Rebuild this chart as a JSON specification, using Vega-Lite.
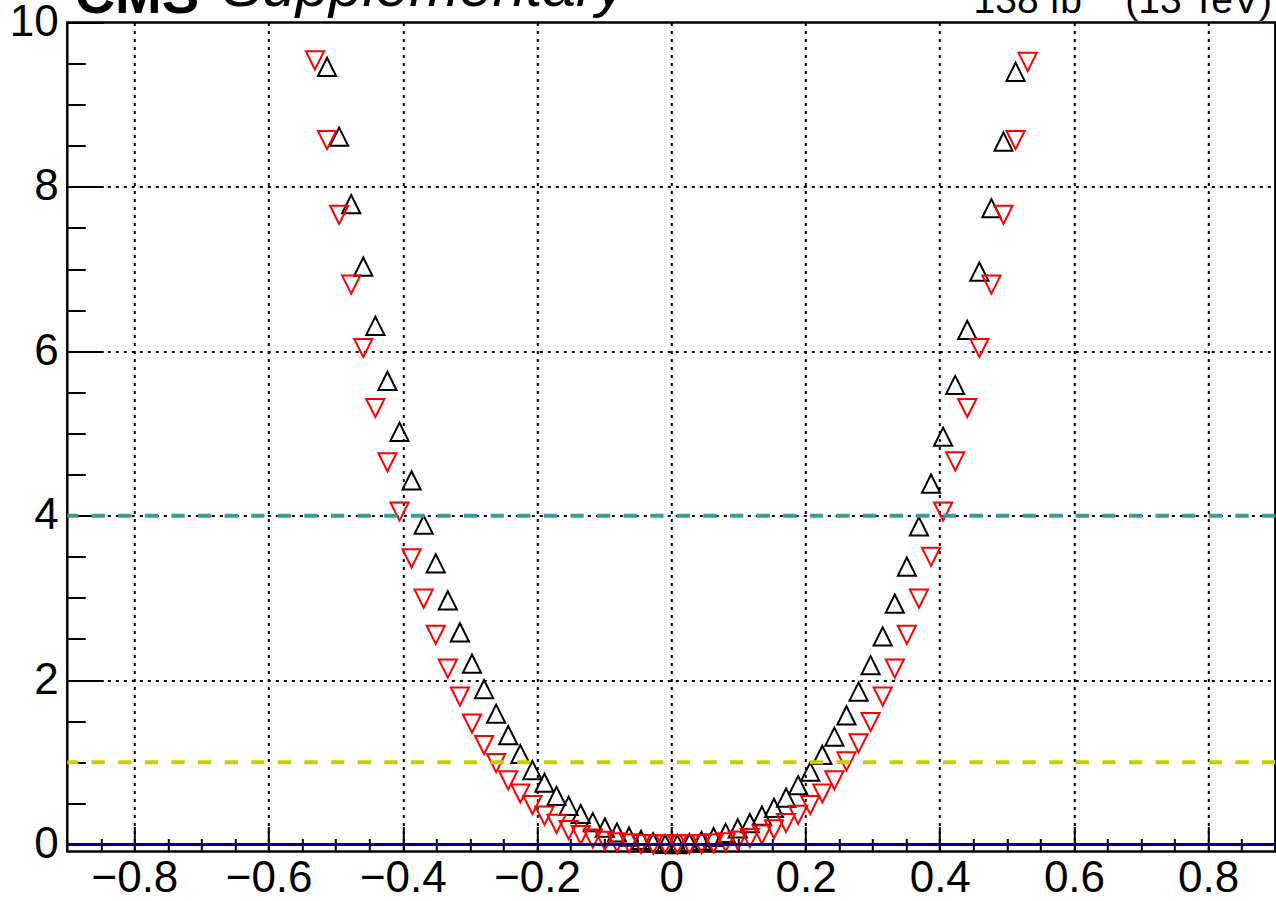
{
  "$schema": "https://vega.github.io/schema/vega-lite/v6.json",
  "width": 1208,
  "height": 829,
  "autosize": {"type": "none"},
  "padding": {"left": 67.3, "top": 22.5, "right": 0.7, "bottom": 49.5},
  "background": "white",
  "config": {
    "view": {"stroke": "black", "strokeWidth": 2.5}
  },
  "layer": [
    {
      "data": {"values": [
        {"series": "A", "x": -0.513, "y": 9.46},
        {"series": "A", "x": -0.495, "y": 8.61},
        {"series": "A", "x": -0.477, "y": 7.79},
        {"series": "A", "x": -0.459, "y": 7.03},
        {"series": "A", "x": -0.441, "y": 6.31},
        {"series": "A", "x": -0.423, "y": 5.64},
        {"series": "A", "x": -0.405, "y": 5.02},
        {"series": "A", "x": -0.387, "y": 4.43},
        {"series": "A", "x": -0.369, "y": 3.89},
        {"series": "A", "x": -0.351, "y": 3.42},
        {"series": "A", "x": -0.333, "y": 2.97},
        {"series": "A", "x": -0.315, "y": 2.58},
        {"series": "A", "x": -0.297, "y": 2.2},
        {"series": "A", "x": -0.279, "y": 1.89},
        {"series": "A", "x": -0.261, "y": 1.59},
        {"series": "A", "x": -0.243, "y": 1.33},
        {"series": "A", "x": -0.225, "y": 1.1},
        {"series": "A", "x": -0.207, "y": 0.905},
        {"series": "A", "x": -0.189, "y": 0.75},
        {"series": "A", "x": -0.171, "y": 0.59},
        {"series": "A", "x": -0.153, "y": 0.47},
        {"series": "A", "x": -0.135, "y": 0.37},
        {"series": "A", "x": -0.117, "y": 0.27},
        {"series": "A", "x": -0.099, "y": 0.205},
        {"series": "A", "x": -0.081, "y": 0.145},
        {"series": "A", "x": -0.063, "y": 0.095},
        {"series": "A", "x": -0.045, "y": 0.055},
        {"series": "A", "x": -0.027, "y": 0.025},
        {"series": "A", "x": -0.009, "y": 0.005},
        {"series": "A", "x": 0.009, "y": 0.003},
        {"series": "A", "x": 0.027, "y": 0.018},
        {"series": "A", "x": 0.045, "y": 0.045},
        {"series": "A", "x": 0.063, "y": 0.09},
        {"series": "A", "x": 0.081, "y": 0.14},
        {"series": "A", "x": 0.099, "y": 0.195},
        {"series": "A", "x": 0.117, "y": 0.26},
        {"series": "A", "x": 0.135, "y": 0.35},
        {"series": "A", "x": 0.153, "y": 0.445},
        {"series": "A", "x": 0.171, "y": 0.57},
        {"series": "A", "x": 0.189, "y": 0.72},
        {"series": "A", "x": 0.207, "y": 0.885},
        {"series": "A", "x": 0.225, "y": 1.09},
        {"series": "A", "x": 0.243, "y": 1.31},
        {"series": "A", "x": 0.261, "y": 1.57},
        {"series": "A", "x": 0.279, "y": 1.86},
        {"series": "A", "x": 0.297, "y": 2.18},
        {"series": "A", "x": 0.315, "y": 2.53},
        {"series": "A", "x": 0.333, "y": 2.93},
        {"series": "A", "x": 0.351, "y": 3.38},
        {"series": "A", "x": 0.369, "y": 3.87},
        {"series": "A", "x": 0.387, "y": 4.39},
        {"series": "A", "x": 0.405, "y": 4.96},
        {"series": "A", "x": 0.423, "y": 5.59},
        {"series": "A", "x": 0.441, "y": 6.26},
        {"series": "A", "x": 0.459, "y": 6.97},
        {"series": "A", "x": 0.477, "y": 7.74},
        {"series": "A", "x": 0.495, "y": 8.55},
        {"series": "A", "x": 0.513, "y": 9.4},
        {"series": "B", "x": -0.531, "y": 9.54},
        {"series": "B", "x": -0.513, "y": 8.57},
        {"series": "B", "x": -0.495, "y": 7.66},
        {"series": "B", "x": -0.477, "y": 6.81},
        {"series": "B", "x": -0.459, "y": 6.04},
        {"series": "B", "x": -0.441, "y": 5.31},
        {"series": "B", "x": -0.423, "y": 4.65},
        {"series": "B", "x": -0.405, "y": 4.05},
        {"series": "B", "x": -0.387, "y": 3.48},
        {"series": "B", "x": -0.369, "y": 2.99},
        {"series": "B", "x": -0.351, "y": 2.55},
        {"series": "B", "x": -0.333, "y": 2.14},
        {"series": "B", "x": -0.315, "y": 1.8},
        {"series": "B", "x": -0.297, "y": 1.47},
        {"series": "B", "x": -0.279, "y": 1.21},
        {"series": "B", "x": -0.261, "y": 0.99},
        {"series": "B", "x": -0.243, "y": 0.78},
        {"series": "B", "x": -0.225, "y": 0.62},
        {"series": "B", "x": -0.207, "y": 0.48},
        {"series": "B", "x": -0.189, "y": 0.35},
        {"series": "B", "x": -0.171, "y": 0.25},
        {"series": "B", "x": -0.153, "y": 0.175},
        {"series": "B", "x": -0.135, "y": 0.115},
        {"series": "B", "x": -0.117, "y": 0.072},
        {"series": "B", "x": -0.099, "y": 0.045},
        {"series": "B", "x": -0.081, "y": 0.025},
        {"series": "B", "x": -0.063, "y": 0.012},
        {"series": "B", "x": -0.045, "y": 0.005},
        {"series": "B", "x": -0.027, "y": 0.001},
        {"series": "B", "x": -0.009, "y": 0.0},
        {"series": "B", "x": 0.009, "y": 0.0},
        {"series": "B", "x": 0.027, "y": 0.001},
        {"series": "B", "x": 0.045, "y": 0.005},
        {"series": "B", "x": 0.063, "y": 0.013},
        {"series": "B", "x": 0.081, "y": 0.027},
        {"series": "B", "x": 0.099, "y": 0.048},
        {"series": "B", "x": 0.117, "y": 0.078},
        {"series": "B", "x": 0.135, "y": 0.12},
        {"series": "B", "x": 0.153, "y": 0.185},
        {"series": "B", "x": 0.171, "y": 0.26},
        {"series": "B", "x": 0.189, "y": 0.36},
        {"series": "B", "x": 0.207, "y": 0.48},
        {"series": "B", "x": 0.225, "y": 0.62},
        {"series": "B", "x": 0.243, "y": 0.78},
        {"series": "B", "x": 0.261, "y": 1.01},
        {"series": "B", "x": 0.279, "y": 1.23},
        {"series": "B", "x": 0.297, "y": 1.49},
        {"series": "B", "x": 0.315, "y": 1.8},
        {"series": "B", "x": 0.333, "y": 2.14},
        {"series": "B", "x": 0.351, "y": 2.55},
        {"series": "B", "x": 0.369, "y": 2.99},
        {"series": "B", "x": 0.387, "y": 3.5},
        {"series": "B", "x": 0.405, "y": 4.05},
        {"series": "B", "x": 0.423, "y": 4.66},
        {"series": "B", "x": 0.441, "y": 5.31},
        {"series": "B", "x": 0.459, "y": 6.04},
        {"series": "B", "x": 0.477, "y": 6.81},
        {"series": "B", "x": 0.495, "y": 7.66},
        {"series": "B", "x": 0.513, "y": 8.57},
        {"series": "B", "x": 0.531, "y": 9.52}
      ]},
      "mark": {"type": "point", "filled": false, "strokeWidth": 2, "size": 330, "opacity": 1},
      "encoding": {
        "x": {
          "field": "x", "type": "quantitative", "title": null,
          "scale": {"domain": [-0.9, 0.9], "nice": false, "zero": false},
          "axis": {
            "values": [-0.85, -0.8, -0.75, -0.7, -0.65, -0.6, -0.55, -0.5, -0.45, -0.4, -0.35, -0.3, -0.25, -0.2, -0.15, -0.1, -0.05, 0, 0.05, 0.1, 0.15, 0.2, 0.25, 0.3, 0.35, 0.4, 0.45, 0.5, 0.55, 0.6, 0.65, 0.7, 0.75, 0.8, 0.85],
            "tickCount": 100,
            "format": "~g",
            "labelExpr": "abs(datum.value*5-round(datum.value*5))<0.001 ? datum.label : ''",
            "labelFont": "Liberation Sans", "labelFontSize": 44, "labelColor": "black",
            "labelPadding": 30, "labelOverlap": false, "labelFlush": false,
            "domain": false,
            "tickColor": "black", "tickWidth": 2,
            "tickSize": {"condition": {"test": "abs(datum.value*5-round(datum.value*5))<0.001", "value": -25}, "value": -13},
            "grid": true, "gridColor": "black", "gridDash": [3, 5], "gridWidth": 2,
            "gridOpacity": {"condition": {"test": "abs(datum.value*5-round(datum.value*5))<0.001", "value": 1}, "value": 0}
          }
        },
        "y": {
          "field": "y", "type": "quantitative", "title": null,
          "scale": {"domain": [-0.086, 10], "nice": false, "zero": false},
          "axis": {
            "values": [0, 0.5, 1, 1.5, 2, 2.5, 3, 3.5, 4, 4.5, 5, 5.5, 6, 6.5, 7, 7.5, 8, 8.5, 9, 9.5, 10],
            "tickCount": 100,
            "format": "~g",
            "labelExpr": "abs(datum.value/2-round(datum.value/2))<0.001 ? datum.label : ''",
            "labelFont": "Liberation Sans", "labelFontSize": 44, "labelColor": "black",
            "labelPadding": 45, "labelOverlap": false, "labelFlush": false,
            "domain": false,
            "tickColor": "black", "tickWidth": 2,
            "tickSize": {"condition": {"test": "abs(datum.value/2-round(datum.value/2))<0.001", "value": -36}, "value": -18},
            "grid": true, "gridColor": "black", "gridDash": [3, 5], "gridWidth": 2,
            "gridOpacity": {"condition": {"test": "abs(datum.value/2-round(datum.value/2))<0.001 && datum.value > 0 && datum.value < 10", "value": 1}, "value": 0}
          }
        },
        "shape": {
          "field": "series", "type": "nominal", "legend": null,
          "scale": {"domain": ["A", "B"], "range": ["M0,-1L1,1L-1,1Z", "M0,1L1,-1L-1,-1Z"]}
        },
        "stroke": {
          "field": "series", "type": "nominal", "legend": null,
          "scale": {"domain": ["A", "B"], "range": ["#000000", "#ff0000"]}
        }
      }
    },
    {
      "data": {"values": [{}]},
      "mark": {"type": "rule", "color": "#000096", "strokeWidth": 3},
      "encoding": {"y": {"datum": 0, "type": "quantitative"}}
    },
    {
      "data": {"values": [{}]},
      "mark": {"type": "rule", "color": "#cccc00", "strokeWidth": 4, "strokeDash": [13.3, 13.3]},
      "encoding": {"y": {"datum": 1, "type": "quantitative"}}
    },
    {
      "data": {"values": [{}]},
      "mark": {"type": "rule", "color": "#3d9c9a", "strokeWidth": 4, "strokeDash": [13.3, 13.3]},
      "encoding": {"y": {"datum": 4, "type": "quantitative"}}
    },
    {
      "data": {"values": [{}]},
      "mark": {"type": "text", "text": "CMS", "font": "Liberation Sans", "fontWeight": "bold", "fontSize": 56, "align": "left", "baseline": "alphabetic", "color": "black"},
      "encoding": {
        "x": {"datum": -0.889, "type": "quantitative"},
        "y": {"datum": 10.12, "type": "quantitative"}
      }
    },
    {
      "data": {"values": [{}]},
      "mark": {"type": "text", "text": "Supplementary", "font": "Liberation Sans", "fontStyle": "italic", "fontSize": 60, "align": "left", "baseline": "alphabetic", "color": "black"},
      "encoding": {
        "x": {"datum": -0.669, "type": "quantitative"},
        "y": {"datum": 10.2, "type": "quantitative"}
      }
    },
    {
      "data": {"values": [{}]},
      "mark": {"type": "text", "text": "138 fb", "font": "Liberation Sans", "fontSize": 39, "align": "right", "baseline": "alphabetic", "color": "black"},
      "encoding": {
        "x": {"datum": 0.612, "type": "quantitative"},
        "y": {"datum": 10.114, "type": "quantitative"}
      }
    },
    {
      "data": {"values": [{}]},
      "mark": {"type": "text", "text": "−1", "font": "Liberation Sans", "fontSize": 27, "align": "left", "baseline": "alphabetic", "color": "black"},
      "encoding": {
        "x": {"datum": 0.615, "type": "quantitative"},
        "y": {"datum": 10.31, "type": "quantitative"}
      }
    },
    {
      "data": {"values": [{}]},
      "mark": {"type": "text", "text": "(13 TeV)", "font": "Liberation Sans", "fontSize": 39, "align": "right", "baseline": "alphabetic", "color": "black"},
      "encoding": {
        "x": {"datum": 0.895, "type": "quantitative"},
        "y": {"datum": 10.114, "type": "quantitative"}
      }
    }
  ]
}
